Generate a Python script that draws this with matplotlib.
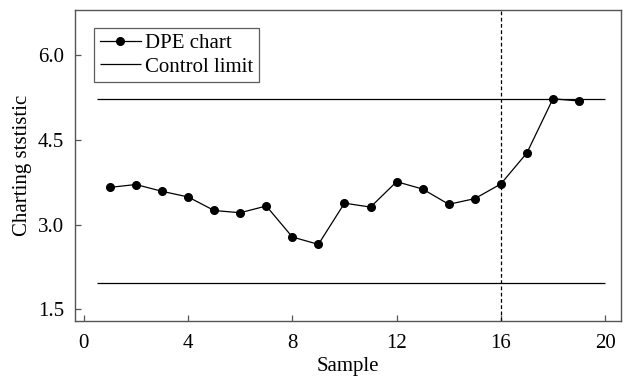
import matplotlib.pyplot as plt
import numpy as np

plt.rcParams["font.family"] = ["Liberation Serif", "DejaVu Serif"]
plt.rcParams["mathtext.fontset"] = "stix"

samples = list(range(1, 20))
dpe = [3.66, 3.71, 3.59, 3.49, 3.25, 3.21, 3.33, 2.78, 2.65, 3.38,
       3.31, 3.76, 3.63, 3.36, 3.46, 3.72, 4.27, 5.23, 5.19]
ucl = 5.22
lcl = 1.97
change_point = 16


def plotChart():
    fig = plt.figure(figsize=(6.27, 3.76), dpi=100)
    ax = fig.add_axes([0.12, 0.146, 0.87, 0.827])

    ax.plot(samples, dpe, color="black", lw=0.9, marker="o", markersize=5.5,
            label="DPE chart")
    ax.hlines([ucl, lcl], 0.5, 20, color="black", lw=0.9, label="Control limit")
    ax.axvline(change_point, color="black", lw=0.9, ls=(0, (3, 2)))

    ax.set_xlim(-0.33, 20.6)
    ax.set_ylim(1.29, 6.8)
    ax.set_xticks([0, 4, 8, 12, 16, 20])
    ax.set_yticks([1.5, 3.0, 4.5, 6.0])
    ax.set_yticklabels(["1.5", "3.0", "4.5", "6.0"])
    ax.tick_params(direction="in", length=4, width=0.9, labelsize=15,
                   color="#555555")
    ax.tick_params(axis="x", pad=9)
    ax.tick_params(axis="y", pad=8)
    for s in ax.spines.values():
        s.set_color("#555555")
        s.set_linewidth(1.0)

    ax.set_xlabel("Sample", fontsize=15, labelpad=3)
    ax.set_ylabel("Charting ststistic", fontsize=15, labelpad=4)

    leg = ax.legend(loc="upper left", bbox_to_anchor=(0.035, 0.942), fontsize=15,
                    frameon=True, fancybox=False, edgecolor="#333333",
                    handlelength=2.0, handletextpad=0.2, labelspacing=0.2,
                    borderpad=0.25, borderaxespad=0)
    leg.get_frame().set_linewidth(0.9)

    plt.savefig("out.png", dpi=100)


if __name__ == "__main__":
    plotChart()
